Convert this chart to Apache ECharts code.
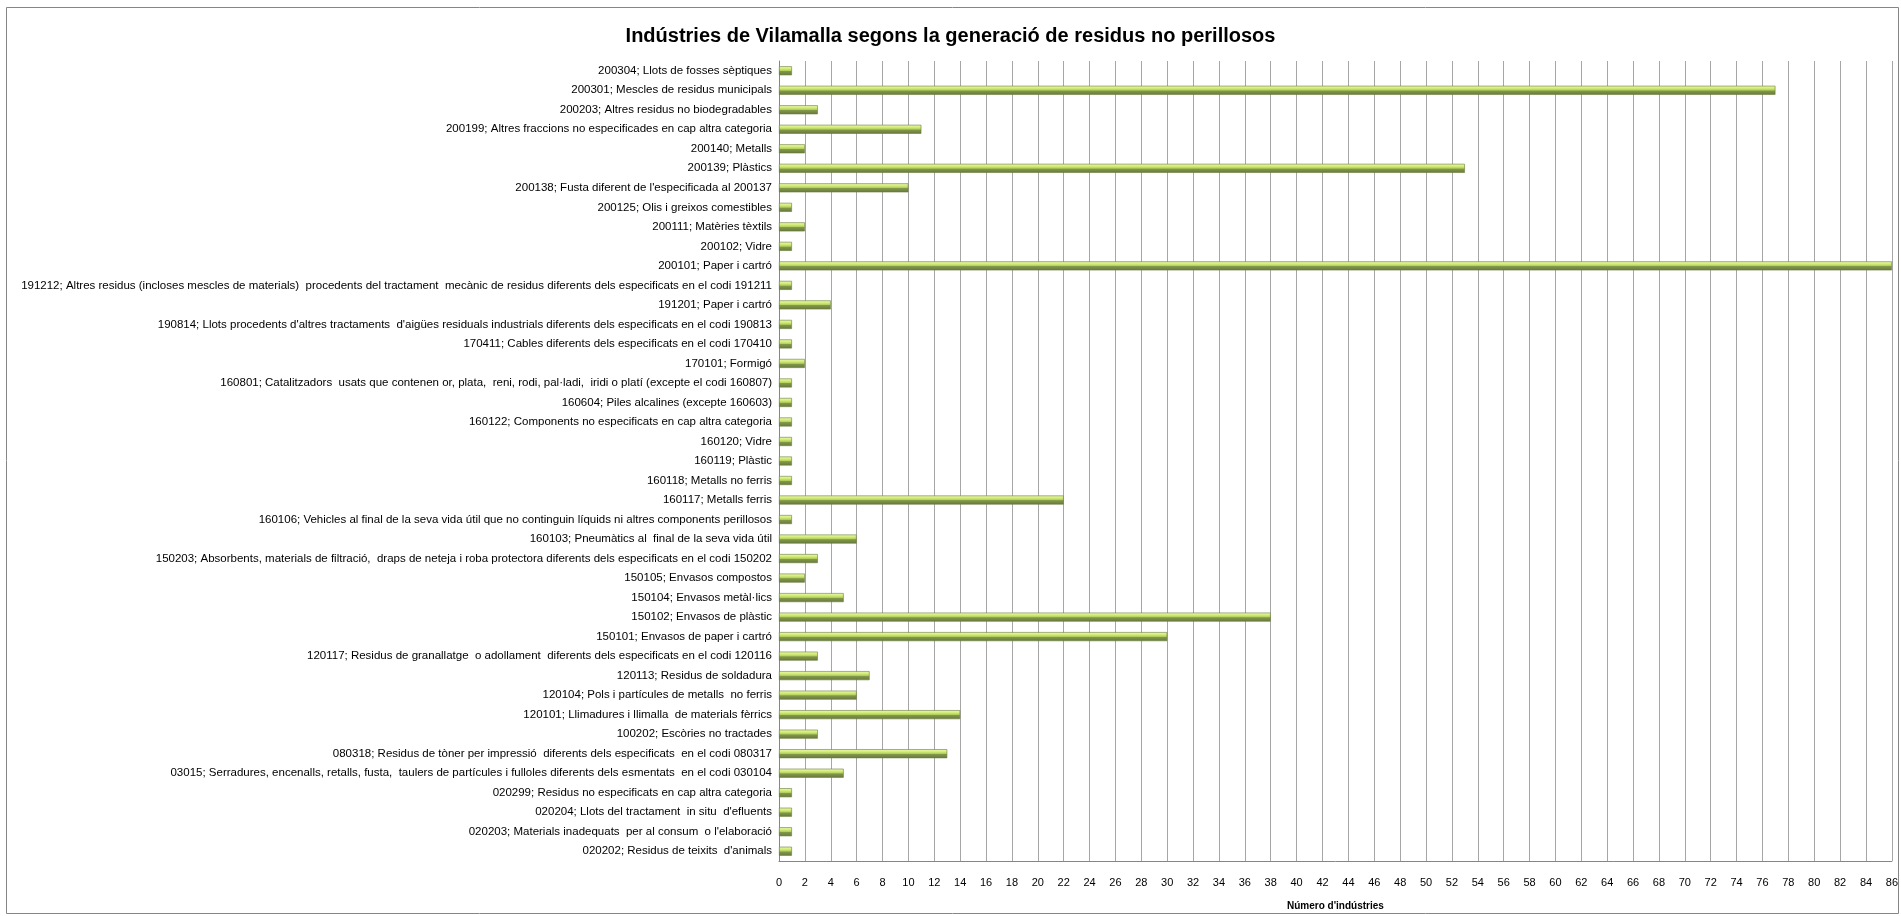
<!DOCTYPE html>
<html>
<head>
<meta charset="utf-8">
<script src="https://cdn.jsdelivr.net/npm/echarts@6/dist/echarts.min.js"></script>
<style>
  html, body { margin: 0; padding: 0; background: #fff; }
  #chart { width: 1901px; height: 916px; }
</style>
</head>
<body>
<div id="chart"></div>
<script>
// categories top to bottom, as in the reference
const categories = [
  '200304; Llots de fosses sèptiques',
  '200301; Mescles de residus municipals',
  '200203; Altres residus no biodegradables',
  '200199; Altres fraccions no especificades en cap altra categoria',
  '200140; Metalls',
  '200139; Plàstics',
  "200138; Fusta diferent de l'especificada al 200137",
  '200125; Olis i greixos comestibles',
  '200111; Matèries tèxtils',
  '200102; Vidre',
  '200101; Paper i cartró',
  '191212; Altres residus (incloses mescles de materials)  procedents del tractament  mecànic de residus diferents dels especificats en el codi 191211',
  '191201; Paper i cartró',
  "190814; Llots procedents d'altres tractaments  d'aigües residuals industrials diferents dels especificats en el codi 190813",
  '170411; Cables diferents dels especificats en el codi 170410',
  '170101; Formigó',
  '160801; Catalitzadors  usats que contenen or, plata,  reni, rodi, pal·ladi,  iridi o platí (excepte el codi 160807)',
  '160604; Piles alcalines (excepte 160603)',
  '160122; Components no especificats en cap altra categoria',
  '160120; Vidre',
  '160119; Plàstic',
  '160118; Metalls no ferris',
  '160117; Metalls ferris',
  '160106; Vehicles al final de la seva vida útil que no continguin líquids ni altres components perillosos',
  '160103; Pneumàtics al  final de la seva vida útil',
  '150203; Absorbents, materials de filtració,  draps de neteja i roba protectora diferents dels especificats en el codi 150202',
  '150105; Envasos compostos',
  '150104; Envasos metàl·lics',
  '150102; Envasos de plàstic',
  '150101; Envasos de paper i cartró',
  '120117; Residus de granallatge  o adollament  diferents dels especificats en el codi 120116',
  '120113; Residus de soldadura',
  '120104; Pols i partícules de metalls  no ferris',
  '120101; Llimadures i llimalla  de materials fèrrics',
  '100202; Escòries no tractades',
  '080318; Residus de tòner per impressió  diferents dels especificats  en el codi 080317',
  '03015; Serradures, encenalls, retalls, fusta,  taulers de partícules i fulloles diferents dels esmentats  en el codi 030104',
  '020299; Residus no especificats en cap altra categoria',
  "020204; Llots del tractament  in situ  d'efluents",
  "020203; Materials inadequats  per al consum  o l'elaboració",
  "020202; Residus de teixits  d'animals"
]

const industries = [
  1, 77, 3, 11, 2, 53, 10, 1, 2, 1, 86,
  1, 4, 1, 1, 2, 1, 1, 1, 1, 1, 1, 22, 1, 6,
  3, 2, 5, 38, 30,
  3, 7, 6, 14, 3, 13, 5, 1, 1, 1, 1
]

const chartTitle = 'Indústries de Vilamalla segons la generació de residus no perillosos'
const xAxisName = "Número d'indústries"

const font = '"Liberation Sans", Arial, sans-serif'

const chart = echarts.init(document.getElementById('chart'))

const option = {
  backgroundColor: '#fff',
  animation: false,
  title: {
    text: chartTitle,
    left: 'center',
    top: 21,
    textStyle: { fontFamily: font, fontSize: 20, fontWeight: 'bold', color: '#000' }
  },
  graphic: [
    {
      type: 'rect',
      shape: { x: 6.5, y: 7.5, width: 1892, height: 906 },
      style: { fill: 'none', stroke: '#868686', lineWidth: 1 },
      silent: true
    }
  ],
  grid: {
    left: 779,
    right: 9,
    top: 61,
    bottom: 51
  },
  xAxis: {
    type: 'value',
    min: 0,
    max: 86,
    interval: 2,
    name: xAxisName,
    nameLocation: 'middle',
    nameGap: 40,
    nameTextStyle: { fontFamily: font, fontSize: 10, fontWeight: 'bold', color: '#000' },
    axisLine: { show: true, lineStyle: { color: '#868686' } },
    axisTick: { show: false },
    axisLabel: { margin: 16, fontFamily: font, fontSize: 11, color: '#000' },
    splitLine: { show: true, lineStyle: { color: '#a6a6a6', width: 1 } }
  },
  yAxis: {
    type: 'category',
    inverse: true,
    data: categories,
    axisLine: { show: true, lineStyle: { color: '#868686' } },
    axisTick: { show: false },
    axisLabel: { margin: 7, fontFamily: font, fontSize: 11.5, color: '#000' },
    splitLine: { show: false }
  },
  series: [
    {
      name: xAxisName,
      type: 'bar',
      data: industries,
      barWidth: 9,
      itemStyle: {
        borderColor: '#6a7c3c',
        borderWidth: 0.6,
        color: new echarts.graphic.LinearGradient(0, 0, 0, 1, [
          { offset: 0, color: '#ecf9ae' },
          { offset: 0.28, color: '#d3ec78' },
          { offset: 0.5, color: '#b0cc5a' },
          { offset: 0.56, color: '#82984a' },
          { offset: 1, color: '#66783c' }
        ])
      }
    }
  ]
}

chart.setOption(option)
window.addEventListener('resize', () => chart.resize())
</script>
</body>
</html>
